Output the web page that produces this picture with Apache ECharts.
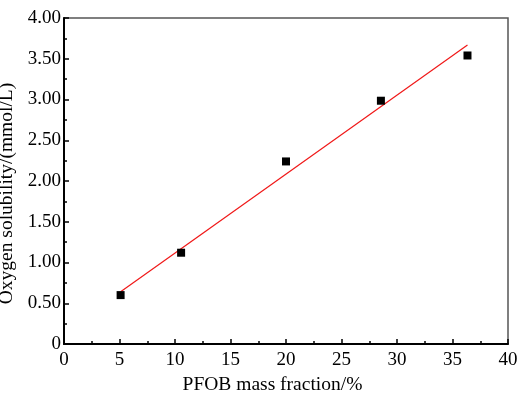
<!DOCTYPE html>
<html>
<head>
<meta charset="utf-8">
<script src="https://cdn.jsdelivr.net/npm/echarts@6/dist/echarts.min.js"></script>
<style>html,body{margin:0;padding:0;background:#fff}#c{width:517px;height:393px}</style>
</head>
<body>
<div id="c"></div>
<script>
var xValues = [5.1, 10.55, 20.0, 28.55, 36.35];
var yValues = [0.60, 1.12, 2.24, 2.985, 3.54];
var fitX = [5.1, 36.35];
var fitY = [0.64, 3.67];
var xTitle = 'PFOB mass fraction/%';
var yTitle = 'Oxygen solubility/(mmol/L)';

var pts = xValues.map(function (x, i) { return [x, yValues[i]]; });
var fit = fitX.map(function (x, i) { return [x, fitY[i]]; });
var font = 'Liberation Serif';
var labStyle = { fontFamily: font, fontSize: 19, color: '#000' };
var chart = echarts.init(document.getElementById('c'));
chart.setOption({
  animation: false,
  textStyle: { fontFamily: font, fontSize: 19, color: '#000' },
  grid: { left: 64, right: 9, top: 18, bottom: 49, show: true, borderColor: '#555', borderWidth: 1.5,
    containLabel: false, outerBoundsMode: 'none' },
  xAxis: {
    type: 'value', min: 0, max: 40, interval: 5,
    name: xTitle, nameLocation: 'middle', nameGap: 26,
    nameTextStyle: { fontFamily: font, fontSize: 19.5, color: '#000', padding: [0, 27, 0, 0] },
    axisLine: { lineStyle: { color: '#000', width: 2 } },
    axisTick: { inside: true, length: 5, lineStyle: { color: '#000', width: 1.5 } },
    minorTick: { show: true, splitNumber: 2, length: 3, lineStyle: { color: '#000', width: 1.5 } },
    axisLabel: { fontFamily: font, fontSize: 19, color: '#000', margin: 7,
      formatter: function (v) { return '{a|' + v + '}'; }, rich: { a: labStyle } },
    splitLine: { show: false }
  },
  yAxis: {
    type: 'value', min: 0, max: 4, interval: 0.5,
    name: yTitle, nameLocation: 'middle', nameGap: 39,
    nameTextStyle: { fontFamily: font, fontSize: 19.5, color: '#000', padding: [0, 25, 0, 0] },
    axisLine: { lineStyle: { color: '#000', width: 2 } },
    axisTick: { inside: true, length: 5, lineStyle: { color: '#000', width: 1.5 } },
    minorTick: { show: true, splitNumber: 2, length: 3, lineStyle: { color: '#000', width: 1.5 } },
    axisLabel: { fontFamily: font, fontSize: 19, color: '#000', margin: 3,
      formatter: function (v) { return '{a|' + (v === 0 ? '0' : v.toFixed(2)) + '}'; }, rich: { a: labStyle } },
    splitLine: { show: false }
  },
  series: [
    { type: 'line', data: fit, symbol: 'none', lineStyle: { color: '#f01818', width: 1.2 }, z: 2 },
    { type: 'scatter', data: pts, symbol: 'rect', symbolSize: 8, itemStyle: { color: '#000', opacity: 1 }, z: 3 }
  ]
});
</script>
</body>
</html>
